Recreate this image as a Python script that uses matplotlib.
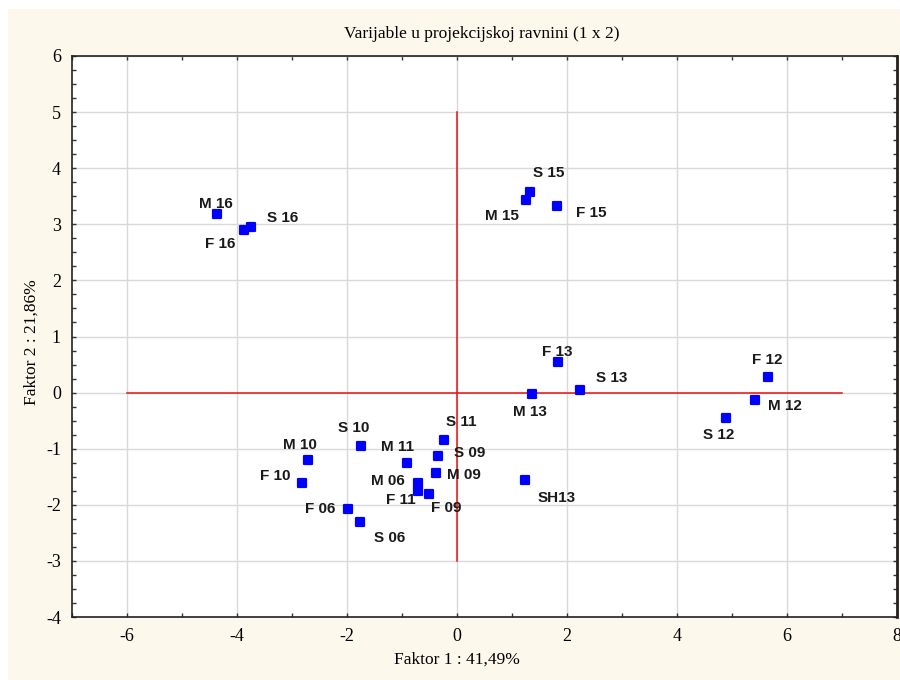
import matplotlib
matplotlib.use("Agg")
import matplotlib.pyplot as plt
from matplotlib.ticker import MultipleLocator, FuncFormatter
from matplotlib.patches import Rectangle

labels = ["M 16", "F 16", "S 16", "M 15", "S 15", "F 15",
          "F 13", "M 13", "S 13", "F 12", "M 12", "S 12",
          "S 10", "M 10", "F 10", "F 06", "S 06", "M 11",
          "S 11", "S 09", "M 09", "M 06", "F 11", "F 09", "SH13"]
faktor1 = [-4.36, -3.87, -3.75, 1.25, 1.33, 1.82,
           1.84, 1.36, 2.24, 5.65, 5.42, 4.89,
           -1.75, -2.71, -2.82, -1.99, -1.76, -0.91,
           -0.23, -0.34, -0.38, -0.70, -0.70, -0.51, 1.24]
faktor2 = [3.18, 2.89, 2.96, 3.43, 3.57, 3.32,
           0.54, -0.02, 0.04, 0.27, -0.14, -0.45,
           -0.96, -1.21, -1.62, -2.08, -2.30, -1.25,
           -0.85, -1.125, -1.44, -1.61, -1.76, -1.81, -1.55]
# label offsets in pixels (dx, dy)
offsets = [(-1, 10), (-24, -14), (32, 9), (-24, -16), (19, 19), (34, -7),
           (-1, 10), (-2, -18), (31, 12), (0, 17), (30, -6), (-7, -17),
           (-7, 18), (-8, 15), (-27, 7), (-27, 0), (29, -16), (-9, 16),
           (17, 18), (31, 3), (28, -2), (-31, 2), (-18, -9), (17, -14), (31, -18)]

title = "Varijable u projekcijskoj ravnini (1 x 2)"
xlabel = "Faktor 1 : 41,49%"
ylabel = "Faktor 2 : 21,86%"

W, H = 900, 680
fig = plt.figure(figsize=(9, 6.8), dpi=100, facecolor="white")
fig.patches.append(Rectangle((8 / W, 0), 1 - 8 / W, 1 - 9 / H, transform=fig.transFigure,
                             facecolor="#fdf8ec", edgecolor="none", zorder=-10))

left, right, top, bottom = 72, 897, 56, 617
ax = fig.add_axes([left / W, 1 - bottom / H, (right - left) / W, (bottom - top) / H])
ax.set_facecolor("white")
ax.set_xlim(-7, 8)
ax.set_ylim(-4, 6)

ax.xaxis.set_major_locator(MultipleLocator(2))
ax.xaxis.set_minor_locator(MultipleLocator(1))
ax.yaxis.set_major_locator(MultipleLocator(1))
ax.yaxis.set_minor_locator(MultipleLocator(0.25))
ax.grid(True, which="major", color="#d9d9d9", linewidth=1, zorder=0)
ax.set_axisbelow(True)
ax.tick_params(which="both", direction="in", top=True, right=True, length=3,
               width=1, color="#333333")
ax.tick_params(which="major", length=3, labelsize=13, pad=8)
for lab in ax.get_xticklabels() + ax.get_yticklabels():
    lab.set_family("Liberation Serif")
ax.xaxis.set_major_formatter(FuncFormatter(lambda v, p: f"{int(round(v))}"))
ax.yaxis.set_major_formatter(FuncFormatter(lambda v, p: f"{int(round(v))}"))
for s in ax.spines.values():
    s.set_color("#222222")
    s.set_linewidth(1.2)
ax.spines["right"].set_linewidth(2)

ax.plot([-6, 7], [0, 0], color="#e81010", linewidth=1.1, zorder=2)
ax.plot([0, 0], [-3, 5], color="#e81010", linewidth=1.1, zorder=2)

sc = ax.scatter(faktor1, faktor2, s=34, marker="s", color="#0000ff", edgecolors="#0000ff",
                linewidths=1.6, zorder=3)
sc.set_joinstyle("round")
for lab, x, y, (dx, dy) in zip(labels, faktor1, faktor2, offsets):
    ax.annotate(lab, (x, y), xytext=(dx, dy), textcoords="offset pixels",
                ha="center", va="center", fontsize=11, fontweight="bold",
                family="Liberation Sans", color="#1a1a1a", zorder=4)

fig.text((left + right) / 2 / W - 0.003, 1 - 34 / H, title, ha="center", va="center",
         family="Liberation Serif", fontsize=12.5)
fig.text(457 / W, 1 - 660 / H, xlabel, ha="center", va="center",
         family="Liberation Serif", fontsize=12.5)
fig.text(32 / W, 1 - 342 / H, ylabel, ha="center", va="center", rotation=90,
         family="Liberation Serif", fontsize=12.5)

fig.savefig("out.png", dpi=100, facecolor=fig.get_facecolor())
